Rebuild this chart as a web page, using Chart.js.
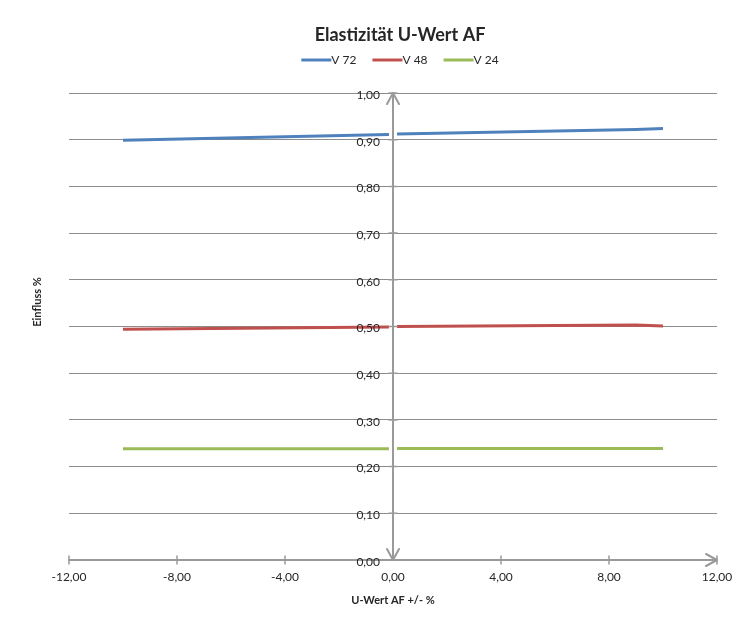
<!DOCTYPE html>
<html>
<head>
<meta charset="utf-8">
<script src="https://cdn.jsdelivr.net/npm/chart.js@4/dist/chart.umd.min.js"></script>
<style>
  html, body { margin: 0; padding: 0; background: #ffffff; }
  canvas { display: block; }
</style>
</head>
<body>
<canvas id="chart" width="752" height="619"></canvas>
<script>
const chartTitle = "Elastizität U-Wert AF";
const xTitle = "U-Wert AF +/- %";
const yTitle = "Einfluss %";
const seriesNames = ["V 72", "V 48", "V 24"];
const seriesColors = ["#4f81bd", "#c0504d", "#9bbb59"];

// x = 0 has no value, so every line has a gap at the y axis
const xValues = [-10, -0.15, 0, 0.15, 9, 10];
const v72 = [0.899, 0.911, null, 0.912, 0.922, 0.924];
const v48 = [0.494, 0.499, null, 0.5, 0.503, 0.501];
const v24 = [0.238, 0.238, null, 0.239, 0.239, 0.239];

const xTicks = [-12, -8, -4, 0, 4, 8, 12];
const yTicks = [0, 0.1, 0.2, 0.3, 0.4, 0.5, 0.6, 0.7, 0.8, 0.9, 1.0];

const textColor = "#262626";
const axisColor = "#9a9a9a";

function fmt(v) {
  return v.toFixed(2).replace(".", ",");
}

function toPoints(values) {
  return xValues.map((x, i) => ({ x: x, y: values[i] }));
}

function drawArrow(ctx, x, y, dx, dy) {
  const len = 11, half = 6;
  ctx.beginPath();
  ctx.moveTo(x - dx * len - dy * half, y - dy * len - dx * half);
  ctx.lineTo(x, y);
  ctx.lineTo(x - dx * len + dy * half, y - dy * len + dx * half);
  ctx.stroke();
}

const crossAxes = {
  id: "crossAxes",
  afterDatasetsDraw(chart) {
    const ctx = chart.ctx;
    const xs = chart.scales.x;
    const ys = chart.scales.y;
    const x0 = Math.round(xs.getPixelForValue(0));
    const y0 = Math.round(ys.getPixelForValue(0));
    const yTop = ys.getPixelForValue(yTicks[yTicks.length - 1]);
    const xLeft = xs.getPixelForValue(xTicks[0]);
    const xRight = xs.getPixelForValue(xTicks[xTicks.length - 1]);

    ctx.save();
    ctx.strokeStyle = axisColor;
    ctx.lineWidth = 2;
    ctx.lineCap = "round";
    ctx.lineJoin = "round";

    ctx.beginPath();
    ctx.moveTo(x0, yTop);
    ctx.lineTo(x0, y0);
    ctx.moveTo(xLeft, y0);
    ctx.lineTo(xRight, y0);
    ctx.stroke();

    drawArrow(ctx, x0, yTop, 0, -1);
    drawArrow(ctx, x0, y0, 0, 1);
    drawArrow(ctx, xRight, y0, 1, 0);

    ctx.lineWidth = 1.5;
    ctx.beginPath();
    xTicks.forEach((v) => {
      if (v === 0) return;
      const px = xs.getPixelForValue(v);
      ctx.moveTo(px, y0 - 4);
      ctx.lineTo(px, y0 + 4);
    });
    yTicks.forEach((v) => {
      const py = ys.getPixelForValue(v);
      ctx.moveTo(x0 - 4, py);
      ctx.lineTo(x0 + 4, py);
    });
    ctx.stroke();

    ctx.fillStyle = textColor;
    ctx.font = "12px Lato";
    ctx.textAlign = "right";
    ctx.textBaseline = "middle";
    yTicks.forEach((v) => {
      ctx.fillText(fmt(v), x0 - 13, ys.getPixelForValue(v) + 2);
    });
    ctx.restore();
  },
  afterDraw(chart) {
    const ctx = chart.ctx;
    const cx = chart.width / 2 + 24;
    ctx.save();
    ctx.fillStyle = textColor;
    ctx.textBaseline = "middle";

    ctx.font = "bold 18px Lato";
    ctx.textAlign = "center";
    ctx.fillText(chartTitle, cx, 35);

    // y axis title, rotated, sits a bit above the plot middle
    ctx.save();
    ctx.translate(37, 302);
    ctx.rotate(-Math.PI / 2);
    ctx.font = "bold 11px Lato";
    ctx.fillText(yTitle, 0, 0);
    ctx.restore();

    // legend: line swatch + label, centred as a group
    ctx.font = "12px Lato";
    ctx.textAlign = "left";
    const swatch = 30, gap = 16;
    const widths = seriesNames.map((n) => ctx.measureText(n).width);
    const total = widths.reduce((a, w) => a + swatch + w, 0) + gap * (seriesNames.length - 1);
    let x = cx - total / 2;
    const ly = 60;
    seriesNames.forEach((name, i) => {
      ctx.strokeStyle = seriesColors[i];
      ctx.lineWidth = 3;
      ctx.beginPath();
      ctx.moveTo(x, ly);
      ctx.lineTo(x + swatch, ly);
      ctx.stroke();
      ctx.fillText(name, x + swatch, ly);
      x += swatch + widths[i] + gap;
    });
    ctx.restore();
  },
};

Chart.defaults.font.family = "Lato";
Chart.defaults.color = textColor;

const ctx = document.getElementById("chart");
new Chart(ctx, {
  type: "line",
  data: {
    datasets: [
      { label: seriesNames[0], data: toPoints(v72), borderColor: seriesColors[0] },
      { label: seriesNames[1], data: toPoints(v48), borderColor: seriesColors[1] },
      { label: seriesNames[2], data: toPoints(v24), borderColor: seriesColors[2] },
    ].map((d) => Object.assign(d, {
      borderWidth: 3,
      pointRadius: 0,
      tension: 0,
      spanGaps: false,
    })),
  },
  options: {
    responsive: false,
    animation: false,
    layout: {
      padding: { top: 93, right: 35, bottom: 0, left: 0 },
    },
    scales: {
      x: {
        type: "linear",
        min: xTicks[0],
        max: xTicks[xTicks.length - 1],
        afterBuildTicks: (scale) => {
          scale.ticks = xTicks.map((v) => ({ value: v }));
        },
        afterFit: (scale) => {
          scale.height = 59;
        },
        ticks: {
          padding: 10,
          font: { size: 12 },
          color: textColor,
          maxRotation: 0,
          callback: (v) => fmt(v),
        },
        grid: { display: false, drawTicks: false },
        border: { display: false },
        title: {
          display: true,
          text: xTitle,
          font: { size: 11, weight: "bold" },
          color: textColor,
          padding: { top: 0, bottom: 12 },
        },
      },
      y: {
        type: "linear",
        min: yTicks[0],
        max: yTicks[yTicks.length - 1],
        afterBuildTicks: (scale) => {
          scale.ticks = yTicks.map((v) => ({ value: v }));
        },
        afterFit: (scale) => {
          scale.width = 69;
        },
        ticks: { display: false },
        grid: { color: "#8c8c8c", lineWidth: 1, drawTicks: false },
        border: { display: false },
        title: { display: false },
      },
    },
    plugins: {
      legend: { display: false },
      tooltip: { enabled: false },
    },
  },
  plugins: [crossAxes],
});
</script>
</body>
</html>
